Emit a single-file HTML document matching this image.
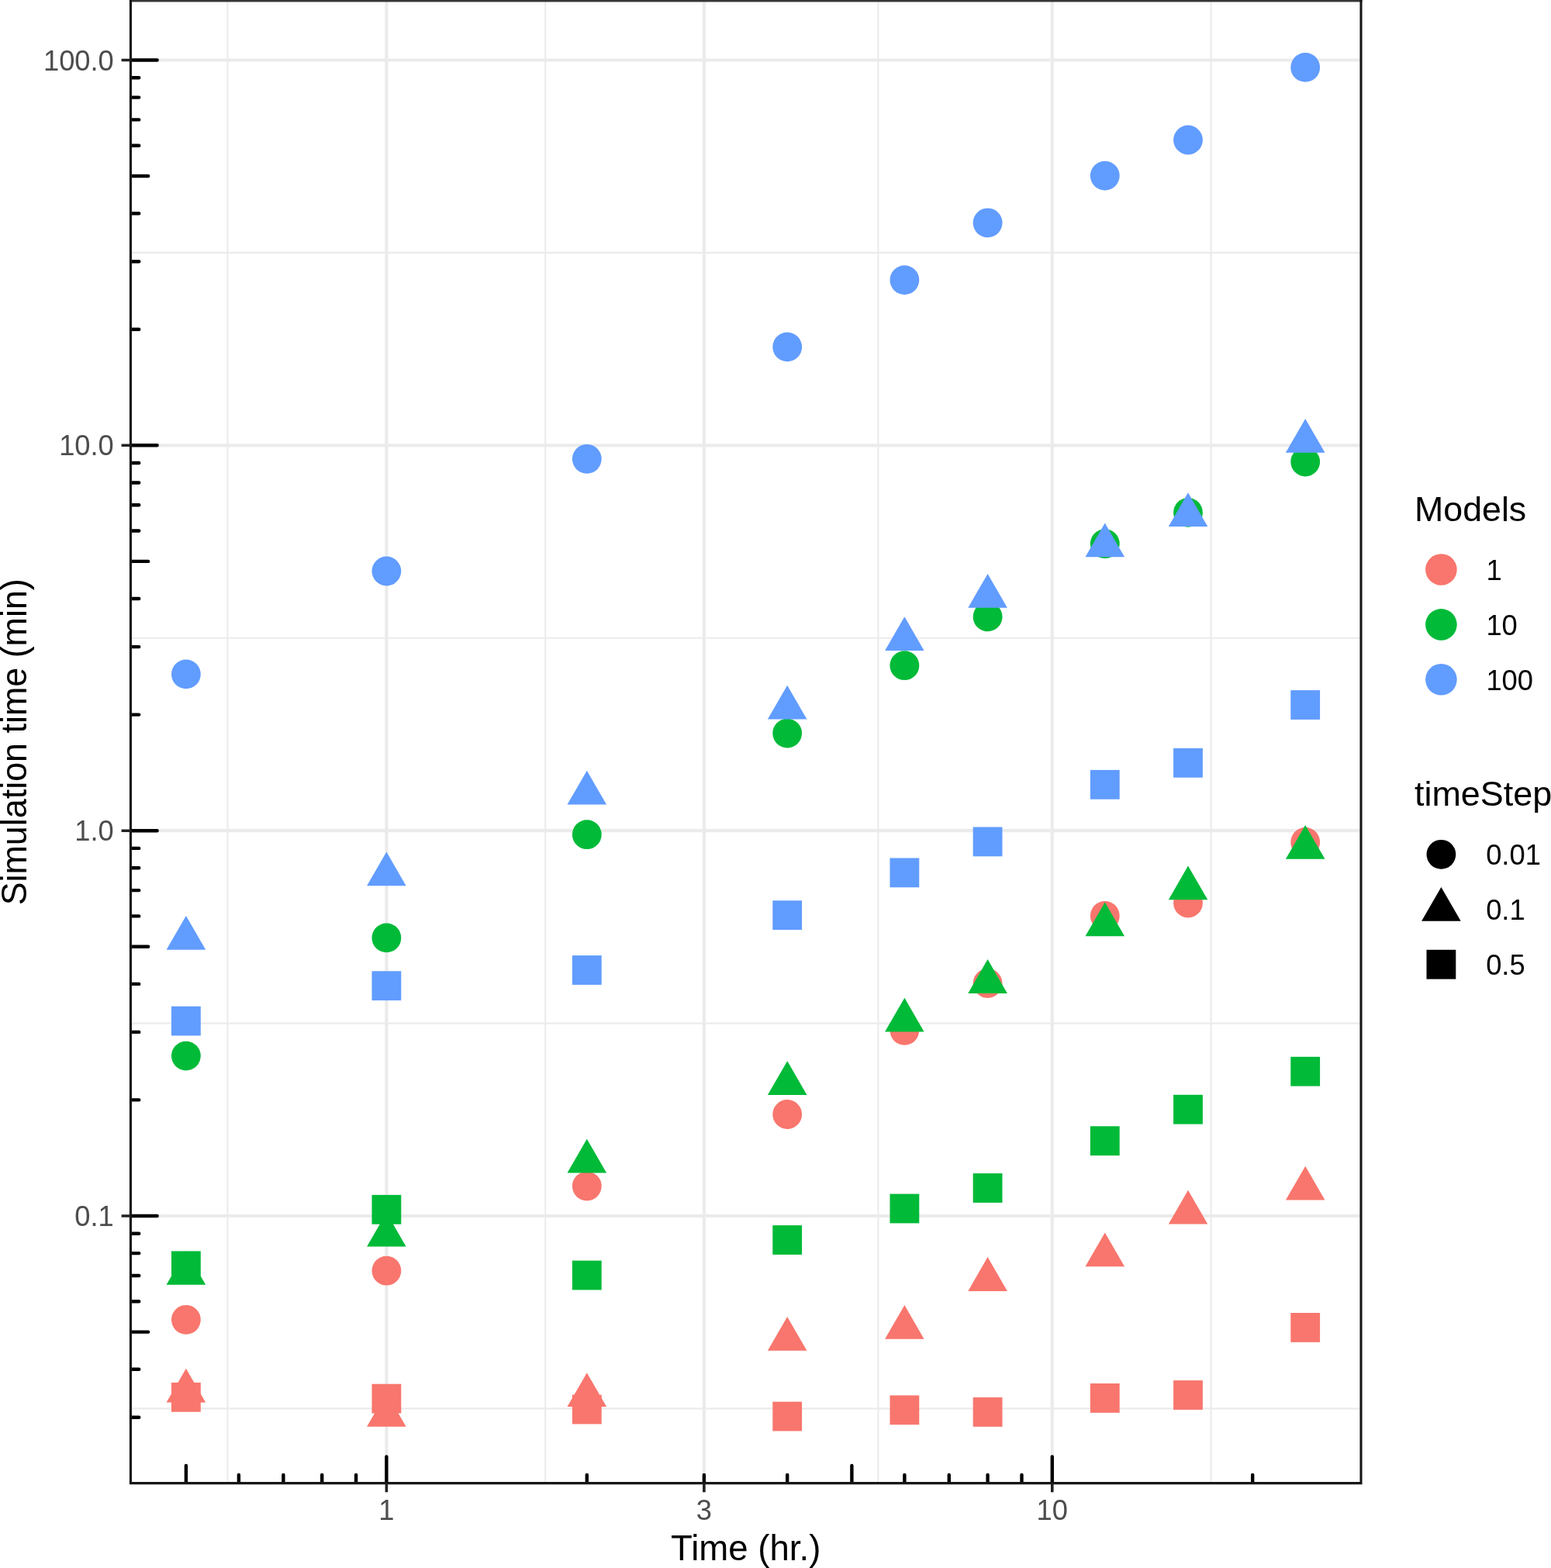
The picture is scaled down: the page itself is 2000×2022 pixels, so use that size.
<!DOCTYPE html>
<html lang="en">
<head>
<meta charset="utf-8">
<title>Simulation time vs Time</title>
<style>
html,body{margin:0;padding:0;background:#fff}
body{width:2000px;height:2022px;overflow:hidden}
svg{display:block}
</style>
</head>
<body>
<svg width="2000" height="2022" viewBox="0 0 2000 2022" font-family="'Liberation Sans', Arial, Helvetica, sans-serif">
<rect width="2000" height="2022" fill="#fff"/>
<g fill="none"><path d="M168.46 1816.4H1755.0" stroke="#EBEBEB" stroke-width="2.1"/><path d="M168.46 1319.6H1755.0" stroke="#EBEBEB" stroke-width="2.1"/><path d="M168.46 822.7H1755.0" stroke="#EBEBEB" stroke-width="2.1"/><path d="M168.46 325.9H1755.0" stroke="#EBEBEB" stroke-width="2.1"/><path d="M293.5 1.0V1912.64" stroke="#EBEBEB" stroke-width="2.1"/><path d="M703.2 1.0V1912.64" stroke="#EBEBEB" stroke-width="2.1"/><path d="M1132.4 1.0V1912.64" stroke="#EBEBEB" stroke-width="2.1"/><path d="M1561.6 1.0V1912.64" stroke="#EBEBEB" stroke-width="2.1"/><path d="M168.46 1568.0H1755.0" stroke="#EBEBEB" stroke-width="4.2"/><path d="M168.46 1071.2H1755.0" stroke="#EBEBEB" stroke-width="4.2"/><path d="M168.46 574.3H1755.0" stroke="#EBEBEB" stroke-width="4.2"/><path d="M168.46 77.5H1755.0" stroke="#EBEBEB" stroke-width="4.2"/><path d="M498.4 1.0V1912.64" stroke="#EBEBEB" stroke-width="4.2"/><path d="M907.9 1.0V1912.64" stroke="#EBEBEB" stroke-width="4.2"/><path d="M1356.8 1.0V1912.64" stroke="#EBEBEB" stroke-width="4.2"/></g>
<g><circle cx="239.9" cy="1701.8" r="18.90" fill="#F8766D"/><circle cx="498.4" cy="1638.7" r="18.90" fill="#F8766D"/><circle cx="756.8" cy="1529.6" r="18.90" fill="#F8766D"/><circle cx="1015.2" cy="1437.0" r="18.90" fill="#F8766D"/><circle cx="1166.4" cy="1328.8" r="18.90" fill="#F8766D"/><circle cx="1273.6" cy="1268.0" r="18.90" fill="#F8766D"/><circle cx="1424.8" cy="1180.9" r="18.90" fill="#F8766D"/><circle cx="1532.0" cy="1164.5" r="18.90" fill="#F8766D"/><circle cx="1683.2" cy="1085.9" r="18.90" fill="#F8766D"/><path d="M239.9 1764.8L265.2 1808.6L214.6 1808.6Z" fill="#F8766D"/><path d="M498.4 1796.0L523.6 1839.8L473.1 1839.8Z" fill="#F8766D"/><path d="M756.8 1770.3L782.1 1814.1L731.5 1814.1Z" fill="#F8766D"/><path d="M1015.2 1698.0L1040.5 1741.8L989.9 1741.8Z" fill="#F8766D"/><path d="M1166.4 1683.0L1191.6 1726.8L1141.1 1726.8Z" fill="#F8766D"/><path d="M1273.6 1621.1L1298.9 1664.9L1248.3 1664.9Z" fill="#F8766D"/><path d="M1424.8 1589.5L1450.1 1633.3L1399.5 1633.3Z" fill="#F8766D"/><path d="M1532.0 1534.8L1557.3 1578.6L1506.8 1578.6Z" fill="#F8766D"/><path d="M1683.2 1503.8L1708.5 1547.6L1657.9 1547.6Z" fill="#F8766D"/><rect x="221.0" y="1782.9" width="37.8" height="37.8" fill="#F8766D"/><rect x="479.5" y="1784.7" width="37.8" height="37.8" fill="#F8766D"/><rect x="737.9" y="1798.6" width="37.8" height="37.8" fill="#F8766D"/><rect x="996.3" y="1807.6" width="37.8" height="37.8" fill="#F8766D"/><rect x="1147.5" y="1799.4" width="37.8" height="37.8" fill="#F8766D"/><rect x="1254.7" y="1802.0" width="37.8" height="37.8" fill="#F8766D"/><rect x="1405.9" y="1784.0" width="37.8" height="37.8" fill="#F8766D"/><rect x="1513.1" y="1780.1" width="37.8" height="37.8" fill="#F8766D"/><rect x="1664.3" y="1693.0" width="37.8" height="37.8" fill="#F8766D"/><circle cx="239.9" cy="1361.6" r="18.90" fill="#00BA38"/><circle cx="498.4" cy="1209.4" r="18.90" fill="#00BA38"/><circle cx="756.8" cy="1076.2" r="18.90" fill="#00BA38"/><circle cx="1015.2" cy="945.6" r="18.90" fill="#00BA38"/><circle cx="1166.4" cy="858.2" r="18.90" fill="#00BA38"/><circle cx="1273.6" cy="795.4" r="18.90" fill="#00BA38"/><circle cx="1424.8" cy="701.2" r="18.90" fill="#00BA38"/><circle cx="1532.0" cy="660.9" r="18.90" fill="#00BA38"/><circle cx="1683.2" cy="595.5" r="18.90" fill="#00BA38"/><path d="M239.9 1613.0L265.2 1656.8L214.6 1656.8Z" fill="#00BA38"/><path d="M498.4 1563.7L523.6 1607.5L473.1 1607.5Z" fill="#00BA38"/><path d="M756.8 1468.8L782.1 1512.6L731.5 1512.6Z" fill="#00BA38"/><path d="M1015.2 1368.2L1040.5 1412.0L989.9 1412.0Z" fill="#00BA38"/><path d="M1166.4 1286.8L1191.6 1330.6L1141.1 1330.6Z" fill="#00BA38"/><path d="M1273.6 1237.1L1298.9 1280.9L1248.3 1280.9Z" fill="#00BA38"/><path d="M1424.8 1163.4L1450.1 1207.2L1399.5 1207.2Z" fill="#00BA38"/><path d="M1532.0 1116.5L1557.3 1160.3L1506.8 1160.3Z" fill="#00BA38"/><path d="M1683.2 1063.9L1708.5 1107.7L1657.9 1107.7Z" fill="#00BA38"/><rect x="221.0" y="1613.4" width="37.8" height="37.8" fill="#00BA38"/><rect x="479.5" y="1540.9" width="37.8" height="37.8" fill="#00BA38"/><rect x="737.9" y="1625.6" width="37.8" height="37.8" fill="#00BA38"/><rect x="996.3" y="1580.1" width="37.8" height="37.8" fill="#00BA38"/><rect x="1147.5" y="1539.6" width="37.8" height="37.8" fill="#00BA38"/><rect x="1254.7" y="1513.1" width="37.8" height="37.8" fill="#00BA38"/><rect x="1405.9" y="1452.3" width="37.8" height="37.8" fill="#00BA38"/><rect x="1513.1" y="1411.8" width="37.8" height="37.8" fill="#00BA38"/><rect x="1664.3" y="1362.8" width="37.8" height="37.8" fill="#00BA38"/><circle cx="239.9" cy="869.4" r="18.90" fill="#619CFF"/><circle cx="498.4" cy="736.5" r="18.90" fill="#619CFF"/><circle cx="756.8" cy="591.8" r="18.90" fill="#619CFF"/><circle cx="1015.2" cy="447.4" r="18.90" fill="#619CFF"/><circle cx="1166.4" cy="361.1" r="18.90" fill="#619CFF"/><circle cx="1273.6" cy="287.3" r="18.90" fill="#619CFF"/><circle cx="1424.8" cy="226.6" r="18.90" fill="#619CFF"/><circle cx="1532.0" cy="180.5" r="18.90" fill="#619CFF"/><circle cx="1683.2" cy="86.9" r="18.90" fill="#619CFF"/><path d="M239.9 1180.9L265.2 1224.7L214.6 1224.7Z" fill="#619CFF"/><path d="M498.4 1098.5L523.6 1142.3L473.1 1142.3Z" fill="#619CFF"/><path d="M756.8 993.8L782.1 1037.6L731.5 1037.6Z" fill="#619CFF"/><path d="M1015.2 883.8L1040.5 927.6L989.9 927.6Z" fill="#619CFF"/><path d="M1166.4 795.3L1191.6 839.1L1141.1 839.1Z" fill="#619CFF"/><path d="M1273.6 739.9L1298.9 783.7L1248.3 783.7Z" fill="#619CFF"/><path d="M1424.8 674.5L1450.1 718.3L1399.5 718.3Z" fill="#619CFF"/><path d="M1532.0 635.2L1557.3 679.0L1506.8 679.0Z" fill="#619CFF"/><path d="M1683.2 540.0L1708.5 583.8L1657.9 583.8Z" fill="#619CFF"/><rect x="221.0" y="1297.7" width="37.8" height="37.8" fill="#619CFF"/><rect x="479.5" y="1252.3" width="37.8" height="37.8" fill="#619CFF"/><rect x="737.9" y="1232.1" width="37.8" height="37.8" fill="#619CFF"/><rect x="996.3" y="1161.3" width="37.8" height="37.8" fill="#619CFF"/><rect x="1147.5" y="1106.5" width="37.8" height="37.8" fill="#619CFF"/><rect x="1254.7" y="1066.5" width="37.8" height="37.8" fill="#619CFF"/><rect x="1405.9" y="992.9" width="37.8" height="37.8" fill="#619CFF"/><rect x="1513.1" y="964.9" width="37.8" height="37.8" fill="#619CFF"/><rect x="1664.3" y="890.1" width="37.8" height="37.8" fill="#619CFF"/></g>
<clipPath id="pc"><rect x="168.46" y="1.0" width="1586.54" height="1911.64"/></clipPath>
<path d="M168.46 1827.8h10.8M168.46 1765.7h10.8M168.46 1717.6h22.7M168.46 1678.2h10.8M168.46 1645.0h10.8M168.46 1616.1h10.8M168.46 1590.7h10.8M168.46 1568.0h34.2M168.46 1418.4h10.8M168.46 1330.9h10.8M168.46 1268.9h10.8M168.46 1220.7h22.7M239.9 1912.64v-22.7M168.46 1181.4h10.8M307.9 1912.64v-10.8M168.46 1148.1h10.8M365.4 1912.64v-10.8M168.46 1119.3h10.8M415.2 1912.64v-10.8M168.46 1093.9h10.8M459.1 1912.64v-10.8M168.46 1071.2h34.2M498.4 1912.64v-34.2M168.46 921.6h10.8M756.8 1912.64v-10.8M168.46 834.1h10.8M907.9 1912.64v-10.8M168.46 772.0h10.8M1015.2 1912.64v-10.8M168.46 723.9h22.7M1098.4 1912.64v-22.7M168.46 684.5h10.8M1166.4 1912.64v-10.8M168.46 651.3h10.8M1223.8 1912.64v-10.8M168.46 622.5h10.8M1273.6 1912.64v-10.8M168.46 597.0h10.8M1317.5 1912.64v-10.8M168.46 574.3h34.2M1356.8 1912.64v-34.2M168.46 424.7h10.8M1615.2 1912.64v-10.8M168.46 337.3h10.8M168.46 275.2h10.8M168.46 227.0h22.7M168.46 187.7h10.8M168.46 154.4h10.8M168.46 125.6h10.8M168.46 100.2h10.8M168.46 77.5h34.2" stroke="#000" stroke-width="4.4" stroke-linecap="round" fill="none" clip-path="url(#pc)"/>
<path d="M166.91 1.0H1756.55" fill="none" stroke="#363636" stroke-width="3.1"/>
<path d="M168.46 -1.0V1912.64H1755.0V-1.0" fill="none" stroke="#161616" stroke-width="3.1" stroke-linejoin="miter"/>
<path d="M156.6 1568.0h11.9M156.6 1071.2h11.9M156.6 574.3h11.9M156.6 77.5h11.9M498.4 1912.64v11.5M907.9 1912.64v11.5M1356.8 1912.64v11.5" stroke="#222" stroke-width="3.6" fill="none"/>
<text x="146.8" y="1581.0" font-size="36.3" fill="#4D4D4D" text-anchor="end">0.1</text>
<text x="146.8" y="1084.2" font-size="36.3" fill="#4D4D4D" text-anchor="end">1.0</text>
<text x="146.8" y="587.3" font-size="36.3" fill="#4D4D4D" text-anchor="end">10.0</text>
<text x="146.8" y="90.5" font-size="36.3" fill="#4D4D4D" text-anchor="end">100.0</text>
<text x="498.4" y="1959.9" font-size="36.3" fill="#4D4D4D" text-anchor="middle">1</text>
<text x="907.9" y="1959.9" font-size="36.3" fill="#4D4D4D" text-anchor="middle">3</text>
<text x="1356.8" y="1959.9" font-size="36.3" fill="#4D4D4D" text-anchor="middle">10</text>
<text x="961.7" y="2012.0" font-size="45.6" fill="#000" text-anchor="middle">Time (hr.)</text>
<text transform="translate(34.4 956.8) rotate(-90) scale(0.9835 1)" font-size="45.6" fill="#000" text-anchor="middle">Simulation time (min)</text>
<text x="1824.1" y="671.9" font-size="44.7" fill="#000">Models</text>
<circle cx="1858.4" cy="734.5" r="20.30" fill="#F8766D"/>
<text x="1916.4" y="747.8" font-size="36.3" fill="#000">1</text>
<circle cx="1858.4" cy="805.4" r="20.30" fill="#00BA38"/>
<text x="1916.4" y="818.7" font-size="36.3" fill="#000">10</text>
<circle cx="1858.4" cy="876.3" r="20.30" fill="#619CFF"/>
<text x="1916.4" y="889.6" font-size="36.3" fill="#000">100</text>
<text x="1824" y="1039.0" font-size="44.9" fill="#000">timeStep</text>
<circle cx="1858.4" cy="1101.8" r="18.90" fill="#000"/>
<text x="1916.2" y="1115.0" font-size="36.3" fill="#000">0.01</text>
<path d="M1858.4 1144.0L1883.7 1187.8L1833.1 1187.8Z" fill="#000"/>
<text x="1916.2" y="1186.4" font-size="36.3" fill="#000">0.1</text>
<rect x="1839.5" y="1224.8" width="37.8" height="37.8" fill="#000"/>
<text x="1916.2" y="1256.9" font-size="36.3" fill="#000">0.5</text>
</svg>
</body>
</html>
